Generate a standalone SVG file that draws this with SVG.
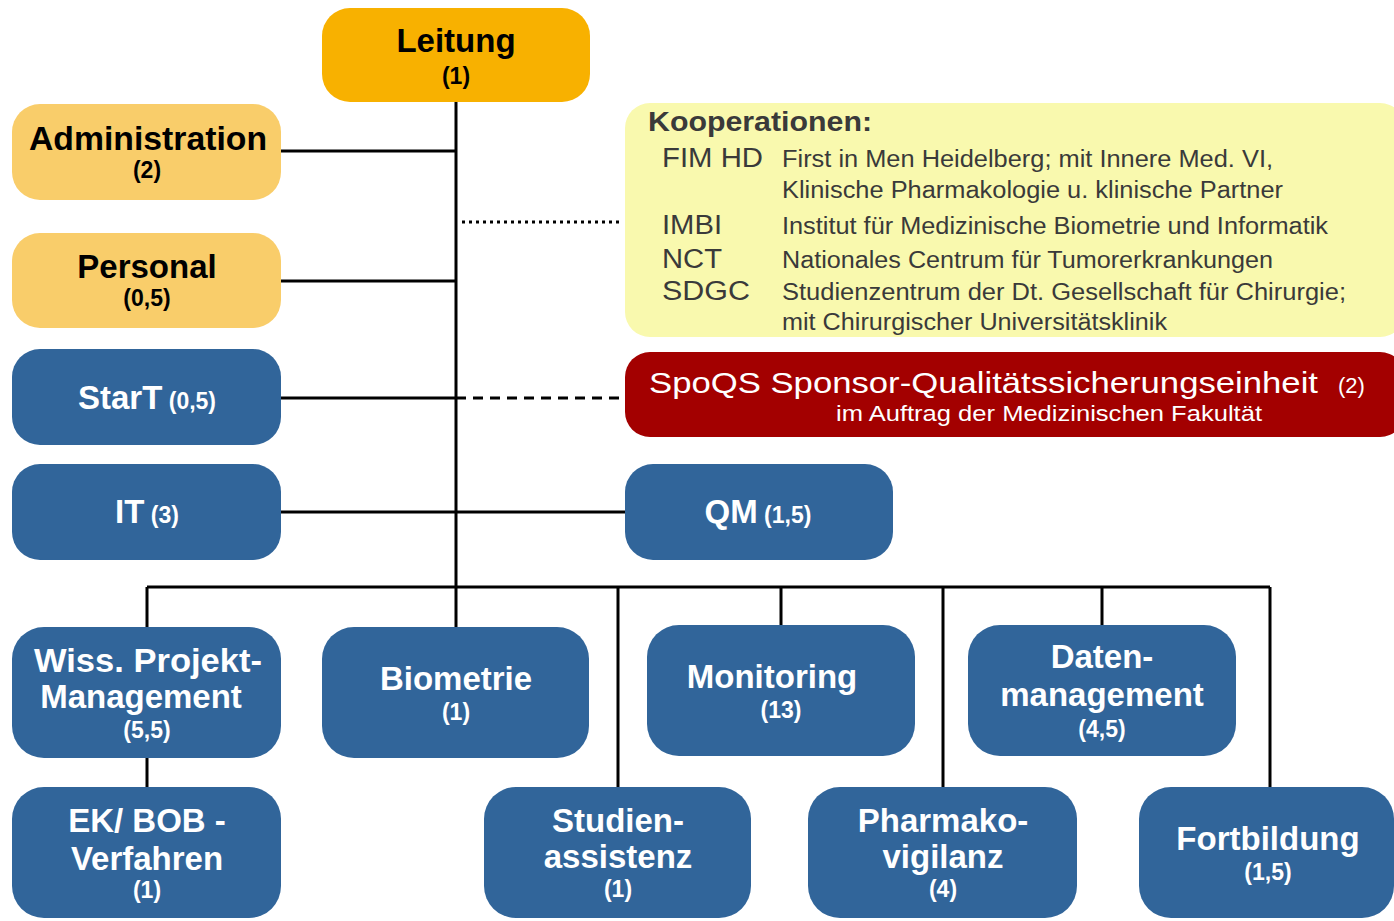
<svg xmlns="http://www.w3.org/2000/svg" width="1394" height="921" viewBox="0 0 1394 921">
<style>
.lead{fill:#F8B100}
.gold{fill:#F9CD6A}
.blue{fill:#31659A}
.t{font-family:"Liberation Sans",Arial,sans-serif;font-weight:bold;text-anchor:middle}
.dk{fill:#000}
.wh{fill:#fff}
.big{font-size:33px}
.sm{font-size:23px}
.ln{stroke:#000;stroke-width:3;fill:none}
.kt{font-family:"Liberation Sans",Arial,sans-serif;fill:#3a3a3a}
</style>
<rect width="1394" height="921" fill="#fff"/>
<g id="connectors">
<path class="ln" d="M456 102V587M281 151H456M281 281H456M281 398H456M281 512H625M147 587H1270M147 587V627M456 587V627M618 587V787M781 587V625M943 587V787M1102 587V625M1270 587V787M147 758V787"/>
<path d="M462 222H622" stroke="#000" stroke-width="3" stroke-dasharray="3 4" fill="none"/>
<path d="M456 398H625" stroke="#000" stroke-width="3" stroke-dasharray="10 7" fill="none"/>
</g>
<g id="leitung"><rect class="lead" x="322" y="8" width="268" height="94" rx="28"/><text class="t dk big" x="456" y="52">Leitung</text><text class="t dk sm" x="456" y="84">(1)</text></g>
<g id="administration"><rect class="gold" x="12" y="104" width="269" height="96" rx="28"/><text class="t dk big" x="148" y="150" textLength="238" lengthAdjust="spacingAndGlyphs">Administration</text><text class="t dk sm" x="147" y="178">(2)</text></g>
<g id="personal"><rect class="gold" x="12" y="233" width="269" height="95" rx="28"/><text class="t dk big" x="147" y="278">Personal</text><text class="t dk sm" x="147" y="306">(0,5)</text></g>
<g id="start"><rect class="blue" x="12" y="349" width="269" height="96" rx="28"/><text class="t wh" x="147" y="409"><tspan class="big">StarT</tspan><tspan class="sm"> (0,5)</tspan></text></g>
<g id="it"><rect class="blue" x="12" y="464" width="269" height="96" rx="28"/><text class="t wh" x="147" y="523"><tspan class="big">IT</tspan><tspan class="sm"> (3)</tspan></text></g>
<g id="qm"><rect class="blue" x="625" y="464" width="268" height="96" rx="28"/><text class="t wh" x="758" y="523"><tspan class="big">QM</tspan><tspan class="sm"> (1,5)</tspan></text></g>
<g id="kooperationen">
<rect x="625" y="103" width="780" height="234" rx="25" fill="#F9F9AE"/>
<text class="kt" x="648" y="131" font-size="27" font-weight="bold" textLength="224" lengthAdjust="spacingAndGlyphs">Kooperationen:</text>
<g class="kt" font-size="27">
<text x="662" y="167" textLength="101" lengthAdjust="spacingAndGlyphs">FIM HD</text>
<text x="662" y="234" textLength="60" lengthAdjust="spacingAndGlyphs">IMBI</text>
<text x="662" y="268" textLength="60" lengthAdjust="spacingAndGlyphs">NCT</text>
<text x="662" y="300" textLength="88" lengthAdjust="spacingAndGlyphs">SDGC</text>
</g>
<g class="kt" font-size="23">
<text x="782" y="167" textLength="491" lengthAdjust="spacingAndGlyphs">First in Men Heidelberg; mit Innere Med. VI,</text>
<text x="782" y="198" textLength="501" lengthAdjust="spacingAndGlyphs">Klinische Pharmakologie u. klinische Partner</text>
<text x="782" y="234" textLength="546" lengthAdjust="spacingAndGlyphs">Institut für Medizinische Biometrie und Informatik</text>
<text x="782" y="268" textLength="491" lengthAdjust="spacingAndGlyphs">Nationales Centrum für Tumorerkrankungen</text>
<text x="782" y="300" textLength="564" lengthAdjust="spacingAndGlyphs">Studienzentrum der Dt. Gesellschaft für Chirurgie;</text>
<text x="782" y="330" textLength="385" lengthAdjust="spacingAndGlyphs">mit Chirurgischer Universitätsklinik</text>
</g>
</g>
<g id="spoqs">
<rect x="625" y="352" width="780" height="85" rx="25" fill="#A30000"/>
<text font-family="Liberation Sans,Arial,sans-serif" fill="#fff" font-size="30" x="649" y="393" textLength="669" lengthAdjust="spacingAndGlyphs">SpoQS Sponsor-Qualitätssicherungseinheit</text>
<text font-family="Liberation Sans,Arial,sans-serif" fill="#fff" font-size="22" x="1338" y="393">(2)</text>
<text font-family="Liberation Sans,Arial,sans-serif" fill="#fff" font-size="22" x="836" y="421" textLength="426" lengthAdjust="spacingAndGlyphs">im Auftrag der Medizinischen Fakultät</text>
</g>
<g id="wiss"><rect class="blue" x="12" y="627" width="269" height="131" rx="32"/><text class="t wh big" x="148" y="672" textLength="228" lengthAdjust="spacingAndGlyphs">Wiss. Projekt-</text><text class="t wh big" x="141" y="708">Management</text><text class="t wh sm" x="147" y="738">(5,5)</text></g>
<g id="biometrie"><rect class="blue" x="322" y="627" width="267" height="131" rx="32"/><text class="t wh big" x="456" y="690">Biometrie</text><text class="t wh sm" x="456" y="720">(1)</text></g>
<g id="monitoring"><rect class="blue" x="647" y="625" width="268" height="131" rx="32"/><text class="t wh big" x="772" y="688">Monitoring</text><text class="t wh sm" x="781" y="718">(13)</text></g>
<g id="datenmanagement"><rect class="blue" x="968" y="625" width="268" height="131" rx="32"/><text class="t wh big" x="1102" y="668">Daten-</text><text class="t wh big" x="1102" y="706">management</text><text class="t wh sm" x="1102" y="737">(4,5)</text></g>
<g id="ek-bob"><rect class="blue" x="12" y="787" width="269" height="131" rx="32"/><text class="t wh big" x="147" y="832">EK/ BOB -</text><text class="t wh big" x="147" y="870">Verfahren</text><text class="t wh sm" x="147" y="898">(1)</text></g>
<g id="studienassistenz"><rect class="blue" x="484" y="787" width="267" height="131" rx="32"/><text class="t wh big" x="618" y="832">Studien-</text><text class="t wh big" x="618" y="868">assistenz</text><text class="t wh sm" x="618" y="897">(1)</text></g>
<g id="pharmakovigilanz"><rect class="blue" x="808" y="787" width="269" height="131" rx="32"/><text class="t wh big" x="943" y="832">Pharmako-</text><text class="t wh big" x="943" y="868">vigilanz</text><text class="t wh sm" x="943" y="897">(4)</text></g>
<g id="fortbildung"><rect class="blue" x="1139" y="787" width="255" height="131" rx="32"/><text class="t wh big" x="1268" y="850">Fortbildung</text><text class="t wh sm" x="1268" y="880">(1,5)</text></g>
</svg>
